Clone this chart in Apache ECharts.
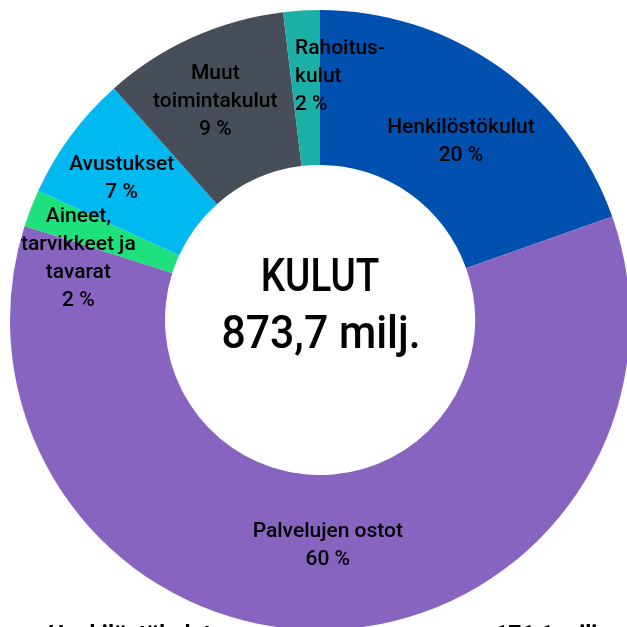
<!DOCTYPE html>
<html>
<head>
<meta charset="utf-8">
<script src="https://cdn.jsdelivr.net/npm/echarts@6/dist/echarts.min.js"></script>
<style>
  html, body { margin: 0; padding: 0; background: #fff; }
  #main { width: 627px; height: 627px; }
</style>
</head>
<body>
<div id="main"></div>
<script>
// kulut (milj. €), arvot luettu kuvasta
const categories = ['Henkilöstökulut', 'Palvelujen ostot', 'Aineet,\ntarvikkeet ja\ntavarat', 'Avustukset', 'Muut\ntoimintakulut', 'Rahoitus-\nkulut'];
const values = [171.1, 527.0, 17.0, 57.5, 84.5, 16.6];
const percentLabels = ['20 %', '60 %', '2 %', '7 %', '9 %', '2 %'];
const colors = ['#0050AF', '#8764BF', '#1EE07C', '#00B9F0', '#474D59', '#1CAFA6'];
// label nudges so the text sits like in the original
const labelOffsets = [[5, 14], [4, -10], [-22, 24], [-9, -1], [-8, -4], [21, -8]];

const font = 'Roboto, "Noto Sans", sans-serif';

const myChart = echarts.init(document.getElementById('main'));

const data = categories.map(function (name, i) {
  return {
    name: name,
    value: values[i],
    itemStyle: { color: colors[i] },
    label: { offset: labelOffsets[i] }
  };
});

const option = {
  backgroundColor: '#fff',
  animation: false,
  series: [{
    type: 'pie',
    center: [320, 320],
    radius: [155, 310],
    startAngle: 90,
    clockwise: true,
    avoidLabelOverlap: false,
    labelLayout: { hideOverlap: false },
    label: {
      show: true,
      position: 'inside',
      color: '#000',
      fontFamily: font,
      fontWeight: 500,
      fontSize: 21,
      lineHeight: 28,
      formatter: function (p) {
        if (p.dataIndex === 5) {
          return '{l|' + p.name + '\n' + percentLabels[p.dataIndex] + '}';
        }
        return p.name + '\n' + percentLabels[p.dataIndex];
      },
      rich: {
        l: { width: 64, align: 'left', color: '#000', fontFamily: font, fontWeight: 500, fontSize: 21, lineHeight: 28 }
      }
    },
    labelLine: { show: false },
    emphasis: { disabled: true },
    data: data
  }],
  graphic: [
    {
      type: 'text', x: 320, y: 279, scaleX: 0.84,
      style: { text: 'KULUT', fill: '#000', font: '500 46px ' + font, align: 'center', verticalAlign: 'middle' }
    },
    {
      type: 'text', x: 321, y: 336, scaleX: 0.93,
      style: { text: '873,7 milj.', fill: '#000', font: '500 46px ' + font, align: 'center', verticalAlign: 'middle' }
    },
    {
      type: 'text', x: 48, y: 625,
      style: { text: 'Henkilöstökulut', fill: '#000', font: 'bold 23px ' + font }
    },
    {
      type: 'text', x: 604, y: 625,
      style: { text: '171,1 milj.', fill: '#000', font: 'bold 23px ' + font, align: 'right' }
    }
  ]
};

myChart.setOption(option);
</script>
</body>
</html>
